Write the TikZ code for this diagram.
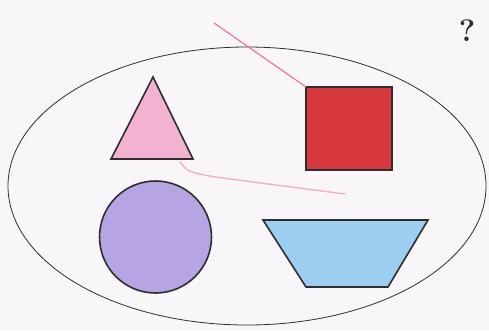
\documentclass[tikz,border=0pt]{standalone}
\usepackage{fontspec}
\usepackage{graphicx}
\usepackage{tikz}
\usetikzlibrary{shapes.geometric}
\definecolor{paper}{HTML}{F8F6F9}
\definecolor{ink}{HTML}{2E2E2E}
\definecolor{pinkfill}{HTML}{F2B3D2}
\definecolor{redfill}{HTML}{D8393E}
\definecolor{purplefill}{HTML}{B6A5E2}
\definecolor{bluefill}{HTML}{9ECDF2}
\definecolor{pinkline}{HTML}{EE6E8E}
\tikzset{
  outline/.style={draw=ink, line width=1.6pt, line join=miter},
  setline/.style={draw=ink, line width=0.8pt},
  crayon/.style={draw=pinkline, line width=1.1pt, line cap=round, line join=round},
  faintcrayon/.style={draw=pinkline!55, line width=1.4pt, line cap=round, line join=round}
}
\begin{document}
\begin{tikzpicture}[x=1pt,y=-1pt]
  \fill[paper] (0,0) rectangle (489,330);
  \useasboundingbox (0,0) rectangle (489,330);

  % named points
  \coordinate (tA) at (153,77);
  \coordinate (tL) at (111,159);
  \coordinate (tR) at (193,159);
  \coordinate (sTL) at (306,87);
  \coordinate (sBR) at (392,170);
  \coordinate (zTL) at (263,220);
  \coordinate (zTR) at (428,220);
  \coordinate (zBR) at (388,287);
  \coordinate (zBL) at (306,287);
  \coordinate (p1) at (214,23);
  \coordinate (p2) at (180,162);
  \coordinate (p3) at (215,177);
  \coordinate (p4) at (345,194);

  % set ellipse
  \node[setline, ellipse, minimum width=478pt, minimum height=278pt, inner sep=0pt] (set) at (247,186) {};

  % shapes
  \path[outline, fill=pinkfill] (tA) -- (tL) -- (tR) -- cycle;
  \path[outline, fill=redfill] (sTL) rectangle (sBR);
  \node[outline, fill=purplefill, circle, minimum size=112pt, inner sep=0pt] (circ) at (155.5,237) {};
  \path[outline, fill=bluefill] (zTL) -- (zTR) -- (zBR) -- (zBL) -- cycle;

  % crayon strokes
  \draw[crayon] (p1) -- (sTL);
  \draw[faintcrayon] (p2) .. controls (188,172) .. (p3) -- (p4);

  % question mark
  \node[text=ink, inner sep=0pt] (q) at (467,31) {\scalebox{1.55}{\bfseries\fontsize{20}{22}\selectfont ?}};
\end{tikzpicture}
\end{document}
